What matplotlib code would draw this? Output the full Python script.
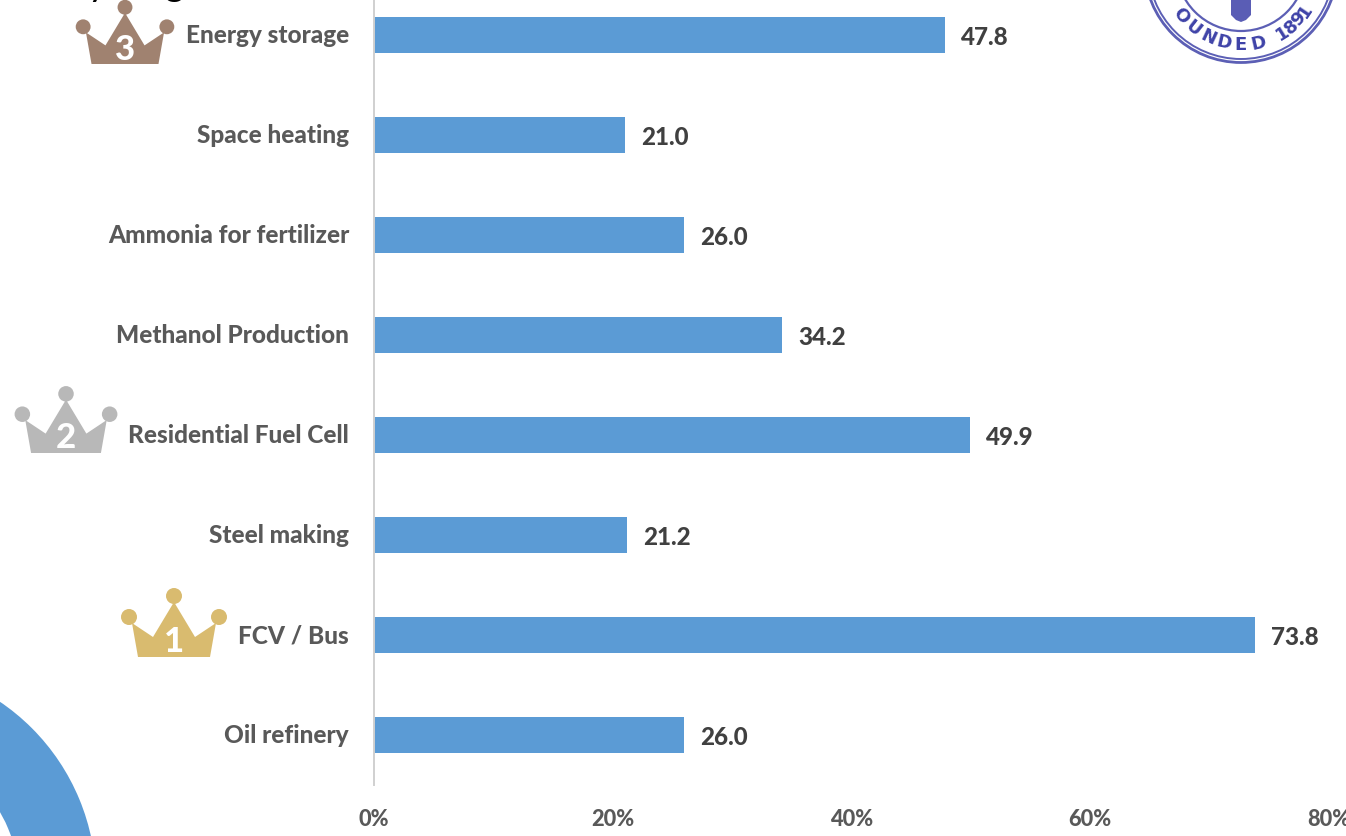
import numpy as np
import matplotlib
matplotlib.use("Agg")
import matplotlib.pyplot as plt
from matplotlib.patches import Polygon, Circle, Wedge
from matplotlib.transforms import ScaledTranslation

# Share per hydrogen application, bottom to top
categories = ["Oil refinery", "FCV / Bus", "Steel making", "Residential Fuel Cell",
              "Methanol Production", "Ammonia for fertilizer", "Space heating", "Energy storage"]
values = [26.0, 73.8, 21.2, 49.9, 34.2, 26.0, 21.0, 47.8]
x_ticks = [0, 20, 40, 60, 80]
x_tick_labels = ["0%", "20%", "40%", "60%", "80%"]

# Podium crowns: rank, colour, centre x, base y (pixels) and size
crown_ranks = [1, 2, 3]
crown_colors = ["#D9BB6F", "#B8B8B8", "#A08270"]
crown_x = [174, 66, 125]
crown_base = [658, 454, 65]
crown_scale = [1.0, 0.97, 0.93]

# Seal lettering and the angle of each glyph around the ring
seal_letters = list("OUNDED") + list("1891")
seal_angles = [141, 128, 115, 103, 90, 77, 58, 50, 42, 34]

W, H = 1346, 837
plt.rcParams["font.family"] = ["Lato", "DejaVu Sans"]
plt.rcParams["font.weight"] = 900

fig = plt.figure(figsize=(W / 100, H / 100), dpi=100, facecolor="white")

# Page-level decorations live on a pixel-coordinate layer
bg = fig.add_axes([0, 0, 1, 1])
bg.set_xlim(0, W)
bg.set_ylim(H, 0)
bg.axis("off")

# Blue ring in the lower-left corner
bg.add_patch(Wedge((-123, 884), 219, 0, 360, width=77, facecolor="#5B9BD5", edgecolor="none"))

# Heading descenders cut by the top edge
bg.text(97, -5, "y", fontsize=27, color="black", ha="center", va="baseline", fontweight="normal")
bg.text(175, -5, "g", fontsize=27, color="black", ha="center", va="baseline", fontweight="normal")

# University seal, cut by the top edge
seal = "#3F43A8"
sx, sy = 1241, -33
for r, lw in [(96.5, 2.0), (93, 1.4), (65, 1.6)]:
    bg.add_patch(Circle((sx, sy), r, fill=False, edgecolor=seal, linewidth=lw, alpha=0.85))
for ch, a in zip(seal_letters, seal_angles):
    t = np.deg2rad(a)
    bg.text(sx + 78 * np.cos(t), sy + 78 * np.sin(t), ch, fontsize=13, color=seal,
            rotation=90 - a, rotation_mode="anchor", ha="center", va="center",
            fontweight="bold", family="DejaVu Sans")
crest_dx = [-10, 10, 10, 5, 0, -5, -10]
crest_y = [0, 0, 16, 21, 23, 21, 16]
bg.add_patch(Polygon([(sx + a, b) for a, b in zip(crest_dx, crest_y)], closed=True,
                     facecolor="#5A5DB5", edgecolor="none"))


def draw_crown(ax, cx, base, color, rank, s):
    dx = [-36, -42, -21, 0, 21, 42, 36]
    dy = [0, -34, -20, -55, -20, -34, 0]
    pts = [(cx + a * s, base + b * s) for a, b in zip(dx, dy)]
    ax.add_patch(Polygon(pts, closed=True, facecolor=color, edgecolor="none"))
    for a, b in [(-45, -40), (0, -61), (45, -40)]:
        ax.add_patch(Circle((cx + a * s, base + b * s), 8 * s, facecolor=color, edgecolor="none"))
    ax.text(cx, base - 16 * s, str(rank), color="white", fontsize=25, ha="center", va="center")


for rank, col, cx, base, s in zip(crown_ranks, crown_colors, crown_x, crown_base, crown_scale):
    draw_crown(bg, cx, base, col, rank, s)

# Bar chart: x=0 at pixel 374, x=80 at pixel 1329, category spacing of 100 px
left, right, bottom_px = 374.0, 1329.0, 786.0
ax = fig.add_axes([left / W, 1 - bottom_px / H, (right - left) / W, bottom_px / H])
ax.patch.set_alpha(0)
ax.set_xlim(0, 80)
ax.set_ylim(-0.5, 7.36)
y = np.arange(len(categories))
ax.barh(y, values, height=0.355, color="#5B9BD5")

for yi, v in zip(y, values):
    ax.annotate(f"{v:.1f}", (v, yi), xytext=(11.5, -0.8), textcoords="offset points",
                va="center", ha="left", fontsize=17.4, color="#404040", annotation_clip=False)

for side in ["top", "right", "bottom"]:
    ax.spines[side].set_visible(False)
ax.spines["left"].set_color("#D0D0D0")
ax.spines["left"].set_linewidth(1.4)
ax.set_yticks(y, categories)
ax.set_xticks(x_ticks, x_tick_labels)
ax.tick_params(axis="y", length=0, pad=18, labelsize=17.6, labelcolor="#595959")
ax.tick_params(axis="x", length=0, pad=16.5, labelsize=15.7, labelcolor="#595959")
# Lift the category labels slightly above the bar centres
for lab in ax.get_yticklabels():
    lab.set_transform(lab.get_transform() + ScaledTranslation(0, 1.5 / 72, fig.dpi_scale_trans))

fig.savefig("out.png", dpi=100)
